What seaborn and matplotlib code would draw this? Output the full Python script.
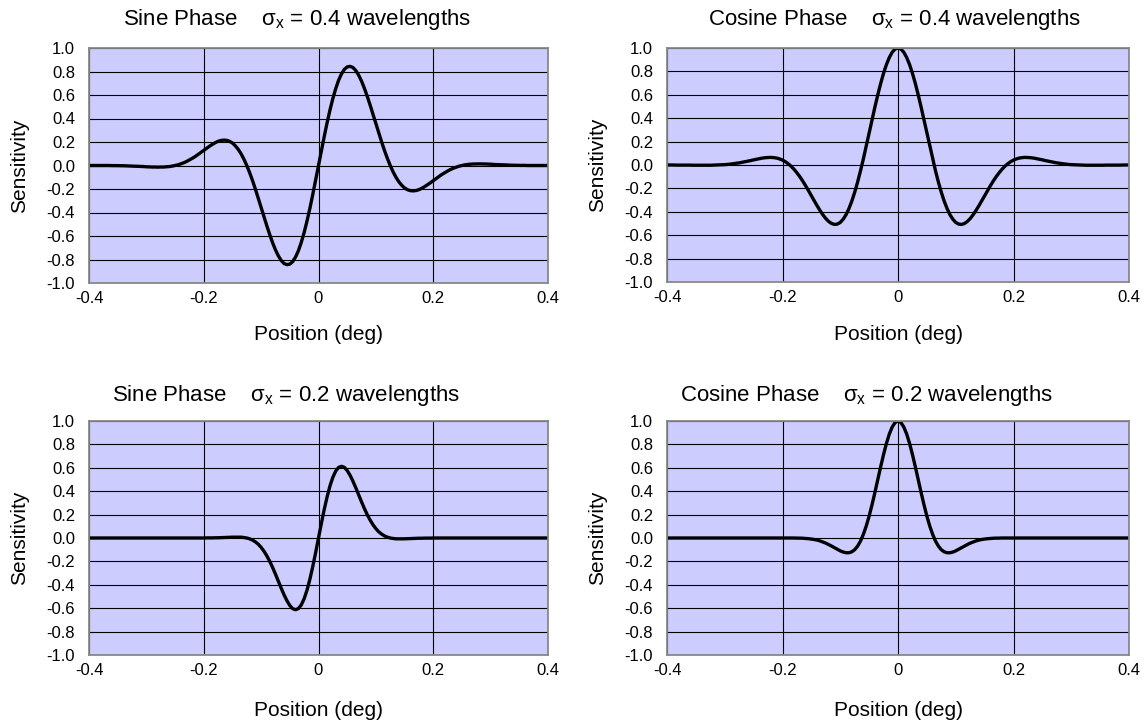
import numpy as np
import matplotlib
matplotlib.use("Agg")
import matplotlib.pyplot as plt
import seaborn as sns

# Sample positions across the receptive field (deg), every 0.005 deg
position = np.round(np.linspace(-0.40, 0.40, 161), 3)

# Sensitivity profiles, sigma_x = 0.4 wavelengths (10 samples per row)
sine_wide = [
    0.000, 0.000, 0.000, 0.000, 0.000, 0.000, 0.000, 0.000, -0.001, -0.001,
    -0.001, -0.002, -0.002, -0.003, -0.004, -0.005, -0.006, -0.007, -0.008, -0.009,
    -0.011, -0.012, -0.013, -0.013, -0.014, -0.013, -0.013, -0.011, -0.009, -0.005,
    0.000, 0.006, 0.014, 0.023, 0.034, 0.047, 0.061, 0.076, 0.093, 0.111,
    0.129, 0.147, 0.164, 0.180, 0.194, 0.206, 0.213, 0.216, 0.214, 0.206,
    0.191, 0.168, 0.138, 0.100, 0.054, 0.000, -0.061, -0.128, -0.201, -0.278,
    -0.357, -0.436, -0.514, -0.588, -0.657, -0.718, -0.769, -0.808, -0.834, -0.844,
    -0.839, -0.818, -0.779, -0.725, -0.654, -0.570, -0.472, -0.364, -0.247, -0.125,
    0.000,
    0.125, 0.247, 0.364, 0.472, 0.570, 0.654, 0.725, 0.779, 0.818, 0.839,
    0.844, 0.834, 0.808, 0.769, 0.718, 0.657, 0.588, 0.514, 0.436, 0.357,
    0.278, 0.201, 0.128, 0.061, 0.000, -0.054, -0.100, -0.138, -0.168, -0.191,
    -0.206, -0.214, -0.216, -0.213, -0.206, -0.194, -0.180, -0.164, -0.147, -0.129,
    -0.111, -0.093, -0.076, -0.061, -0.047, -0.034, -0.023, -0.014, -0.006, 0.000,
    0.005, 0.009, 0.011, 0.013, 0.013, 0.014, 0.013, 0.013, 0.012, 0.011,
    0.009, 0.008, 0.007, 0.006, 0.005, 0.004, 0.003, 0.002, 0.002, 0.001,
    0.001, 0.001, 0.000, 0.000, 0.000, 0.000, 0.000, 0.000, 0.000, 0.000,
]
cosine_wide = [
    0.000, 0.000, 0.000, -0.001, -0.001, -0.001, -0.001, -0.001, -0.001, -0.002,
    -0.002, -0.002, -0.002, -0.002, -0.002, -0.002, -0.001, 0.000, 0.001, 0.002,
    0.003, 0.005, 0.008, 0.011, 0.015, 0.018, 0.023, 0.028, 0.033, 0.038,
    0.044, 0.049, 0.054, 0.059, 0.062, 0.064, 0.065, 0.063, 0.059, 0.052,
    0.042, 0.028, 0.010, -0.011, -0.037, -0.067, -0.100, -0.137, -0.177, -0.219,
    -0.263, -0.306, -0.349, -0.389, -0.426, -0.458, -0.483, -0.500, -0.508, -0.505,
    -0.491, -0.464, -0.425, -0.373, -0.309, -0.233, -0.147, -0.051, 0.052, 0.161,
    0.273, 0.385, 0.495, 0.600, 0.697, 0.784, 0.859, 0.919, 0.964, 0.991,
    1.000,
    0.991, 0.964, 0.919, 0.859, 0.784, 0.697, 0.600, 0.495, 0.385, 0.273,
    0.161, 0.052, -0.051, -0.147, -0.233, -0.309, -0.373, -0.425, -0.464, -0.491,
    -0.505, -0.508, -0.500, -0.483, -0.458, -0.426, -0.389, -0.349, -0.306, -0.263,
    -0.219, -0.177, -0.137, -0.100, -0.067, -0.037, -0.011, 0.010, 0.028, 0.042,
    0.052, 0.059, 0.063, 0.065, 0.064, 0.062, 0.059, 0.054, 0.049, 0.044,
    0.038, 0.033, 0.028, 0.023, 0.018, 0.015, 0.011, 0.008, 0.005, 0.003,
    0.002, 0.001, 0.000, -0.001, -0.002, -0.002, -0.002, -0.002, -0.002, -0.002,
    -0.002, -0.001, -0.001, -0.001, -0.001, -0.001, -0.001, 0.000, 0.000, 0.000,
]

# Sensitivity profiles, sigma_x = 0.2 wavelengths
sine_narrow = [
    0.000, 0.000, 0.000, 0.000, 0.000, 0.000, 0.000, 0.000, 0.000, 0.000,
    0.000, 0.000, 0.000, 0.000, 0.000, 0.000, 0.000, 0.000, 0.000, 0.000,
    0.000, 0.000, 0.000, 0.000, 0.000, 0.000, 0.000, 0.000, 0.000, 0.000,
    0.000, 0.000, 0.000, 0.000, 0.000, 0.000, 0.000, 0.000, 0.000, 0.000,
    0.000, 0.001, 0.001, 0.001, 0.002, 0.002, 0.003, 0.004, 0.005, 0.006,
    0.007, 0.007, 0.007, 0.007, 0.004, 0.000, -0.007, -0.018, -0.033, -0.053,
    -0.080, -0.113, -0.153, -0.199, -0.252, -0.309, -0.369, -0.429, -0.486, -0.536,
    -0.577, -0.604, -0.613, -0.603, -0.572, -0.519, -0.445, -0.352, -0.244, -0.125,
    0.000,
    0.125, 0.244, 0.352, 0.445, 0.519, 0.572, 0.603, 0.613, 0.604, 0.577,
    0.536, 0.486, 0.429, 0.369, 0.309, 0.252, 0.199, 0.153, 0.113, 0.080,
    0.053, 0.033, 0.018, 0.007, 0.000, -0.004, -0.007, -0.007, -0.007, -0.007,
    -0.006, -0.005, -0.004, -0.003, -0.002, -0.002, -0.001, -0.001, -0.001, 0.000,
    0.000, 0.000, 0.000, 0.000, 0.000, 0.000, 0.000, 0.000, 0.000, 0.000,
    0.000, 0.000, 0.000, 0.000, 0.000, 0.000, 0.000, 0.000, 0.000, 0.000,
    0.000, 0.000, 0.000, 0.000, 0.000, 0.000, 0.000, 0.000, 0.000, 0.000,
    0.000, 0.000, 0.000, 0.000, 0.000, 0.000, 0.000, 0.000, 0.000, 0.000,
]
cosine_narrow = [
    0.000, 0.000, 0.000, 0.000, 0.000, 0.000, 0.000, 0.000, 0.000, 0.000,
    0.000, 0.000, 0.000, 0.000, 0.000, 0.000, 0.000, 0.000, 0.000, 0.000,
    0.000, 0.000, 0.000, 0.000, 0.000, 0.000, 0.000, 0.000, 0.000, 0.000,
    0.000, 0.000, 0.000, 0.000, 0.000, 0.000, 0.000, 0.000, 0.000, 0.000,
    0.000, 0.000, 0.000, 0.000, 0.000, -0.001, -0.001, -0.002, -0.004, -0.006,
    -0.009, -0.013, -0.018, -0.025, -0.034, -0.044, -0.056, -0.069, -0.083, -0.097,
    -0.110, -0.120, -0.126, -0.126, -0.118, -0.100, -0.070, -0.027, 0.031, 0.102,
    0.187, 0.284, 0.389, 0.499, 0.609, 0.714, 0.809, 0.889, 0.949, 0.987,
    1.000,
    0.987, 0.949, 0.889, 0.809, 0.714, 0.609, 0.499, 0.389, 0.284, 0.187,
    0.102, 0.031, -0.027, -0.070, -0.100, -0.118, -0.126, -0.126, -0.120, -0.110,
    -0.097, -0.083, -0.069, -0.056, -0.044, -0.034, -0.025, -0.018, -0.013, -0.009,
    -0.006, -0.004, -0.002, -0.001, -0.001, 0.000, 0.000, 0.000, 0.000, 0.000,
    0.000, 0.000, 0.000, 0.000, 0.000, 0.000, 0.000, 0.000, 0.000, 0.000,
    0.000, 0.000, 0.000, 0.000, 0.000, 0.000, 0.000, 0.000, 0.000, 0.000,
    0.000, 0.000, 0.000, 0.000, 0.000, 0.000, 0.000, 0.000, 0.000, 0.000,
    0.000, 0.000, 0.000, 0.000, 0.000, 0.000, 0.000, 0.000, 0.000, 0.000,
]

phases = ["Sine Phase", "Cosine Phase", "Sine Phase", "Cosine Phase"]
sigmas = ["0.4", "0.4", "0.2", "0.2"]
profiles = [sine_wide, cosine_wide, sine_narrow, cosine_narrow]

x_ticks = [-0.4, -0.2, 0.0, 0.2, 0.4]
x_tick_labels = ["-0.4", "-0.2", "0", "0.2", "0.4"]
y_ticks = [-1.0, -0.8, -0.6, -0.4, -0.2, 0.0, 0.2, 0.4, 0.6, 0.8, 1.0]
y_tick_labels = [f"{v:.1f}" for v in y_ticks]

sns.set_theme(style="white")
plt.rcParams.update({
    "font.family": ["Liberation Sans", "DejaVu Sans"],
    "mathtext.fontset": "custom",
    "mathtext.rm": "Liberation Sans",
    "mathtext.it": "Liberation Sans",
    "mathtext.bf": "Liberation Sans:bold",
})

W, H = 1146, 725
fig = plt.figure(figsize=(W / 100, H / 100), dpi=100)

# Panel boxes in pixels: left, top, right, bottom
boxes = [
    (89, 48, 548, 283),
    (667, 48, 1129, 282),
    (89, 421, 548, 655),
    (667, 421, 1129, 655),
]
title_centers = [(297, 20), (894, 20), (286, 395), (866, 395)]
xlabel_gap = [52, 52, 55, 55]
ylabel_x = 20

for box, phase, sig, vals, (tx, ty), gap in zip(boxes, phases, sigmas, profiles,
                                               title_centers, xlabel_gap):
    l, t, r, b = box
    ax = fig.add_axes([l / W, 1 - b / H, (r - l) / W, (b - t) / H])
    ax.set_facecolor("#CCCCFF")
    sns.lineplot(x=position, y=vals, ax=ax, color="black", linewidth=2.4,
                 estimator=None, sort=False)
    ax.set_xlim(-0.4, 0.4)
    ax.set_ylim(-1.0, 1.0)
    ax.set_xticks(x_ticks)
    ax.set_xticklabels(x_tick_labels)
    ax.set_yticks(y_ticks)
    ax.set_yticklabels(y_tick_labels)
    ax.grid(True, color="black", linewidth=0.8)
    ax.set_axisbelow(True)
    for sp in ax.spines.values():
        sp.set_color("#888888")
        sp.set_linewidth(1.3)
        sp.set_visible(True)
    ax.tick_params(axis="both", length=0, labelsize=12, colors="black")
    ax.tick_params(axis="y", pad=10)
    ax.tick_params(axis="x", pad=6)
    ax.set_xlabel("Position (deg)", fontsize=15, color="black")
    ax.xaxis.set_label_coords(0.5, -gap / (b - t))
    ax.xaxis.label.set_va("center")
    ax.set_ylabel("Sensitivity", fontsize=15, color="black")
    y_ref = ylabel_x if l < 300 else ylabel_x + 578
    ax.yaxis.set_label_coords(-(l - y_ref) / (r - l), 0.5)
    ax.yaxis.label.set_va("center")
    fig.text(tx / W, 1 - ty / H,
             rf"{phase}    $\sigma_\mathrm{{x}}$ = {sig} wavelengths",
             ha="center", va="center", fontsize=16, color="black")

fig.savefig("out.png", dpi=100)
